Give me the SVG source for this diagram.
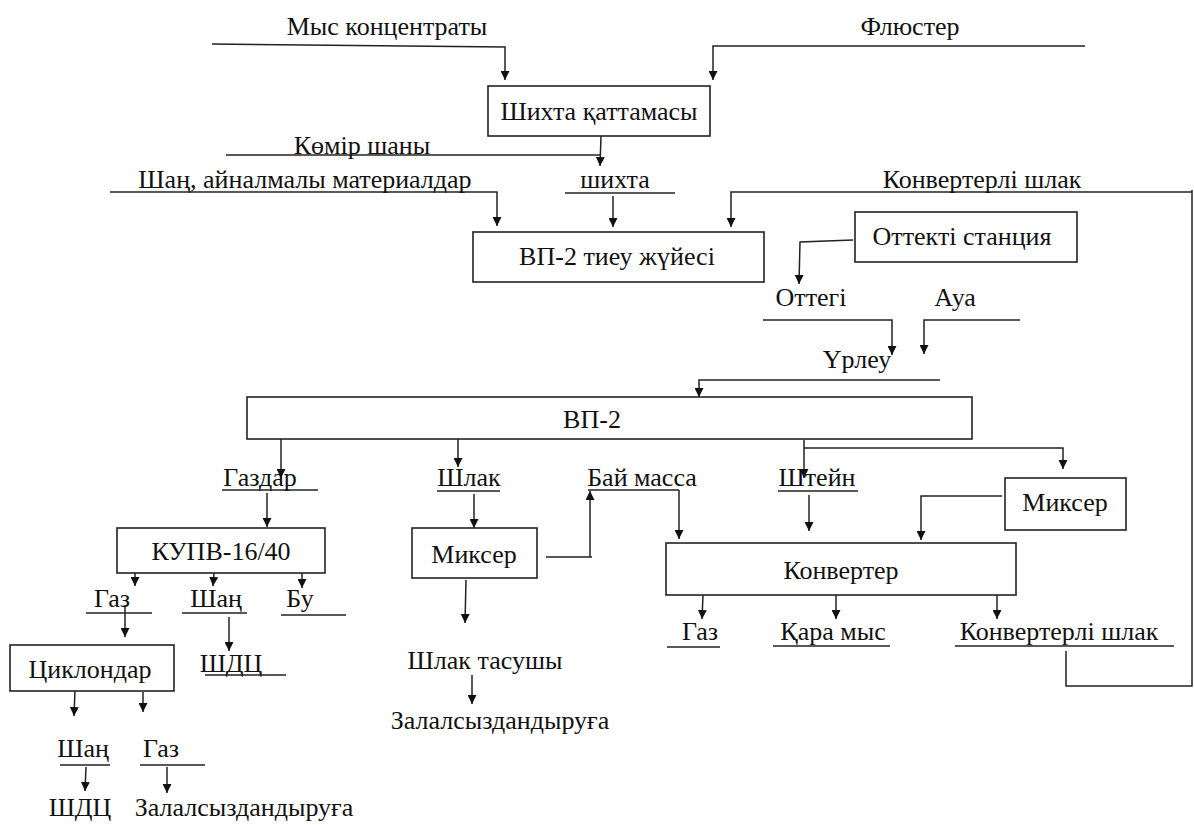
<svg xmlns="http://www.w3.org/2000/svg" width="1194" height="825" viewBox="0 0 1194 825">
<style>
text{font-family:'Liberation Serif','DejaVu Serif',serif;font-size:26px;fill:#111;text-anchor:middle}
.box{fill:#fff;stroke:#222;stroke-width:1.6}
.ln{fill:none;stroke:#222;stroke-width:1.5}
.ar{fill:none;stroke:#222;stroke-width:1.5;marker-end:url(#ah)}
</style>
<defs>
<marker id="ah" viewBox="0 0 10 10" refX="10" refY="5" markerWidth="9" markerHeight="9" markerUnits="userSpaceOnUse" orient="auto">
<path d="M0,0 L10,5 L0,10 z" fill="#111"/>
</marker>
</defs>
<rect width="1194" height="825" fill="#fff"/>
<g id="connectors">
<path class="ar" d="M212,44 L505,47 L505,80"/>
<path class="ar" d="M1085,46 L713,46 L713,80"/>
<path class="ar" d="M601,136 L600,166"/>
<path class="ln" d="M226,155 L600,155"/>
<path class="ar" d="M110,192 L497,192 L497,226"/>
<path class="ln" d="M565,193 L675,193"/>
<path class="ar" d="M613,196 L613,227"/>
<path class="ar" d="M1192,192 L731,192 L731,227"/>
<path class="ar" d="M853,240 L800,242 L799,284"/>
<path class="ar" d="M763,320 L892,320 L892,355"/>
<path class="ar" d="M1020,320 L924,320 L924,354"/>
<path class="ar" d="M940,380 L699,380 L699,397"/>
<path class="ar" d="M281,439 L281,478"/>
<path class="ar" d="M458,436 L458,467"/>
<path class="ar" d="M804,440 L804,478"/>
<path class="ar" d="M804,448 L1063,448 L1063,469"/>
<path class="ln" d="M222,490 L318,490"/>
<path class="ln" d="M437,491 L500,491"/>
<path class="ln" d="M588,490 L679,490"/>
<path class="ar" d="M679,490 L679,539"/>
<path class="ln" d="M546,557 L592,557"/>
<path class="ar" d="M590,557 L590,491"/>
<path class="ln" d="M778,491 L858,491"/>
<path class="ar" d="M809,495 L809,531"/>
<path class="ar" d="M1002,496 L921,496 L921,540"/>
<path class="ar" d="M267,493 L267,527"/>
<path class="ar" d="M474,494 L474,528"/>
<path class="ar" d="M466,580 L465,623"/>
<path class="ar" d="M472,675 L472,704"/>
<path class="ar" d="M703,595 L702,619"/>
<path class="ar" d="M836,595 L836,619"/>
<path class="ar" d="M997,595 L997,619"/>
<path class="ln" d="M667,647 L720,647"/>
<path class="ln" d="M773,646 L890,646"/>
<path class="ln" d="M955,646 L1174,646"/>
<path class="ln" d="M1066,651 L1066,686 L1192,686 L1192,190"/>
<path class="ar" d="M135,571 L135,586"/>
<path class="ar" d="M214,573 L213,586"/>
<path class="ar" d="M302,573 L302,588"/>
<path class="ln" d="M86,613 L152,613"/>
<path class="ln" d="M182,613 L247,613"/>
<path class="ln" d="M281,615 L346,615"/>
<path class="ar" d="M125,605 L125,637"/>
<path class="ar" d="M229,617 L229,651"/>
<path class="ln" d="M205,675 L286,675"/>
<path class="ar" d="M75,690 L74,716"/>
<path class="ar" d="M143,692 L143,712"/>
<path class="ln" d="M60,765 L110,765"/>
<path class="ln" d="M140,765 L205,765"/>
<path class="ar" d="M86,767 L85,791"/>
<path class="ar" d="M167,767 L167,793"/>
</g>
<g id="n-mys"><text x="387" y="35">Мыс концентраты</text></g>
<g id="n-flux"><text x="910" y="35">Флюстер</text></g>
<g id="n-shikhta-kat"><rect class="box" x="488" y="86" width="222" height="50"/><text x="599" y="120">Шихта қаттамасы</text></g>
<g id="n-komir"><text x="362" y="154">Көмір шаны</text></g>
<g id="n-shan-ain"><text x="305" y="188">Шаң, айналмалы материалдар</text></g>
<g id="n-shikhta"><text x="615" y="188">шихта</text></g>
<g id="n-konv-shlak-top"><text x="982" y="188">Конвертерлі шлак</text></g>
<g id="n-vp2-tieu"><rect class="box" x="473" y="232" width="291" height="50"/><text x="617" y="265">ВП-2 тиеу жүйесі</text></g>
<g id="n-ottekti"><rect class="box" x="855" y="212" width="222" height="50"/><text x="962" y="245">Оттекті станция</text></g>
<g id="n-ottegi"><text x="811" y="306">Оттегі</text></g>
<g id="n-aua"><text x="955" y="306">Ауа</text></g>
<g id="n-urleu"><text x="857" y="368">Үрлеу</text></g>
<g id="n-vp2"><rect class="box" x="247" y="397" width="725" height="42"/><text x="592" y="428">ВП-2</text></g>
<g id="n-gazdar"><text x="260" y="486">Газдар</text></g>
<g id="n-shlak"><text x="469" y="486">Шлак</text></g>
<g id="n-bai"><text x="642" y="486">Бай масса</text></g>
<g id="n-shtein"><text x="817" y="486">Штейн</text></g>
<g id="n-mikser-r"><rect class="box" x="1005" y="478" width="121" height="52"/><text x="1065" y="511">Миксер</text></g>
<g id="n-kupv"><rect class="box" x="117" y="528" width="208" height="45"/><text x="221" y="560">КУПВ-16/40</text></g>
<g id="n-mikser-l"><rect class="box" x="412" y="528" width="125" height="50"/><text x="474" y="563">Миксер</text></g>
<g id="n-konverter"><rect class="box" x="666" y="543" width="350" height="52"/><text x="841" y="579">Конвертер</text></g>
<g id="n-gaz1"><text x="112" y="607">Газ</text></g>
<g id="n-shan1"><text x="216" y="607">Шаң</text></g>
<g id="n-bu"><text x="300" y="607">Бу</text></g>
<g id="n-shdc1"><text x="231" y="672">ШДЦ</text></g>
<g id="n-cyklon"><rect class="box" x="10" y="645" width="164" height="46"/><text x="90" y="678">Циклондар</text></g>
<g id="n-shlak-tas"><text x="485" y="669">Шлак тасушы</text></g>
<g id="n-zalal1"><text x="500" y="729">Залалсыздандыруға</text></g>
<g id="n-gaz-k"><text x="700" y="640">Газ</text></g>
<g id="n-kara"><text x="833" y="640">Қара мыс</text></g>
<g id="n-konv-shlak"><text x="1059" y="640">Конвертерлі шлак</text></g>
<g id="n-shan2"><text x="83" y="757">Шаң</text></g>
<g id="n-gaz2"><text x="161" y="757">Газ</text></g>
<g id="n-shdc2"><text x="80" y="816">ШДЦ</text></g>
<g id="n-zalal2"><text x="244" y="816">Залалсыздандыруға</text></g>
</svg>
